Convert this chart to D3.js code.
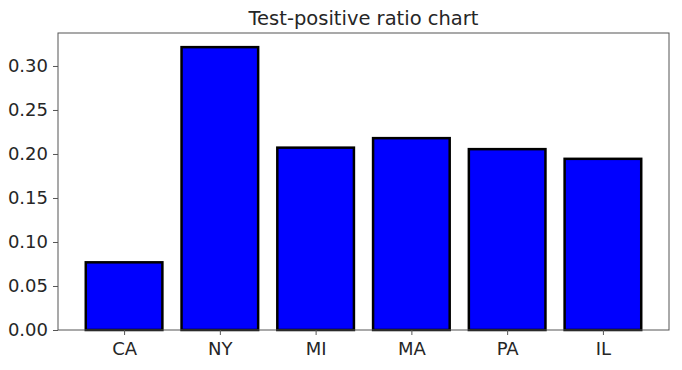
<!DOCTYPE html>
<html>
<head>
<meta charset="utf-8">
<script src="https://cdn.jsdelivr.net/npm/d3@7"></script>
<style>
  body { margin: 0; background: #fff; }
  text { font-family: "DejaVu Sans", sans-serif; }
</style>
</head>
<body>
<div id="chart"></div>
<script>
// data
const states = ["CA", "NY", "MI", "MA", "PA", "IL"];
const ratios = [0.0769, 0.3214, 0.2072, 0.2180, 0.2055, 0.1945];
const yTicks = [0.00, 0.05, 0.10, 0.15, 0.20, 0.25, 0.30];

const W = 682, H = 370;
const margin = {top: 33, right: 13, bottom: 40, left: 58};
const width = W - margin.left - margin.right;
const height = H - margin.top - margin.bottom;

const svg = d3.select("#chart")
    .append("svg")
    .attr("width", W)
    .attr("height", H)
    .append("g")
    .attr("transform", "translate(" + margin.left + "," + margin.top + ")");

// matplotlib style limits: bars of width 0.8, 5% margin
const n = states.length;
const span = (n - 1) + 0.8;
const xlo = -0.4 - 0.05 * span, xhi = (n - 1) + 0.4 + 0.05 * span;
const x = d3.scaleLinear().domain([xlo, xhi]).range([0, width]);
const y = d3.scaleLinear()
    .domain([0, d3.max(ratios) * 1.05])
    .range([height, 0]);

// bars
svg.selectAll("rect.bar")
    .data(ratios)
    .enter()
    .append("rect")
    .attr("class", "bar")
    .attr("x", (d, i) => x(i - 0.4))
    .attr("y", d => y(d))
    .attr("width", x(0.8) - x(0))
    .attr("height", d => height - y(d))
    .attr("fill", "#0000ff")
    .attr("stroke", "#000")
    .attr("stroke-width", 2.5);

// frame
svg.append("rect")
    .attr("x", 0).attr("y", 0)
    .attr("width", width).attr("height", height)
    .attr("fill", "none")
    .attr("stroke", "#555")
    .attr("stroke-width", 1);

// x axis
const xAxis = svg.append("g")
    .attr("transform", "translate(0," + height + ")")
    .call(d3.axisBottom(x)
        .tickValues(d3.range(n))
        .tickFormat(i => states[i])
        .tickSize(5)
        .tickPadding(7));
xAxis.select(".domain").remove();
xAxis.selectAll("line").attr("stroke", "#555");
xAxis.selectAll("text")
    .style("font-size", "18px")
    .attr("fill", "#262626");

// y axis
const yAxis = svg.append("g")
    .call(d3.axisLeft(y)
        .tickValues(yTicks)
        .tickFormat(d3.format(".2f"))
        .tickSize(5)
        .tickPadding(5));
yAxis.select(".domain").remove();
yAxis.selectAll("line").attr("stroke", "#555");
yAxis.selectAll("text")
    .style("font-size", "18px")
    .attr("fill", "#262626");

// title
svg.append("text")
    .attr("x", width / 2)
    .attr("y", -8)
    .attr("text-anchor", "middle")
    .style("font-size", "19.5px")
    .attr("fill", "#262626")
    .text("Test-positive ratio chart");
</script>
</body>
</html>
